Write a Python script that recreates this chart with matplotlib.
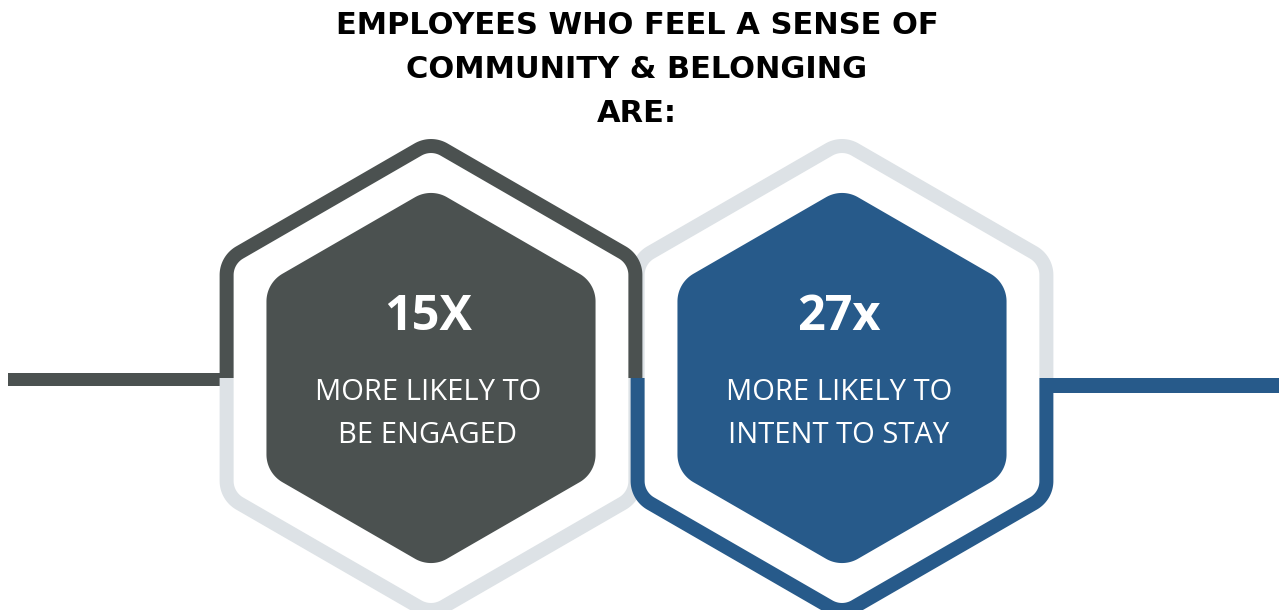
import matplotlib

matplotlib.use("Agg")
import matplotlib.pyplot as plt
import numpy as np
from matplotlib.patches import Polygon, Rectangle

W, H = 1279, 610

TITLE_LINES = ["EMPLOYEES WHO FEEL A SENSE OF", "COMMUNITY & BELONGING", "ARE:"]
MULTIPLIERS = ["15X", "27x"]
DESCRIPTIONS = [["MORE LIKELY TO", "BE ENGAGED"], ["MORE LIKELY TO", "INTENT TO STAY"]]

DARK = "#4b5150"
BLUE = "#275a8a"
LIGHT = "#dde2e6"
FILL_COLORS = [DARK, BLUE]

# hexagon layout (pixel units, y grows downward)
CENTERS = [(431, 378), (842, 378)]
RING_R, RING_CORNER, RING_LW = 236, 26, 14
FILL_R, FILL_CORNER = 190, 32


def hex_vertices(cx, cy, r):
    hw = r * np.sqrt(3) / 2
    return {
        "lmid": (cx - hw, cy), "ul": (cx - hw, cy - r / 2), "top": (cx, cy - r),
        "ur": (cx + hw, cy - r / 2), "rmid": (cx + hw, cy), "lr": (cx + hw, cy + r / 2),
        "bot": (cx, cy + r), "ll": (cx - hw, cy + r / 2),
    }


def round_chain(pts, rad, closed=False, n=24):
    """Polyline through pts with every corner replaced by a circular arc."""
    pts = [np.asarray(p, float) for p in pts]
    out = []
    idx = range(len(pts)) if closed else range(1, len(pts) - 1)
    if not closed:
        out.append(pts[0])
    for i in idx:
        p0, p1, p2 = pts[i - 1], pts[i], pts[(i + 1) % len(pts)]
        a = (p0 - p1) / np.linalg.norm(p0 - p1)
        b = (p2 - p1) / np.linalg.norm(p2 - p1)
        ang = np.arccos(np.clip(a @ b, -1, 1))
        d = rad / np.tan(ang / 2)
        t1, t2 = p1 + a * d, p1 + b * d
        bis = (a + b) / np.linalg.norm(a + b)
        c = p1 + bis * rad / np.sin(ang / 2)
        s1 = np.arctan2(*(t1 - c)[::-1])
        s2 = np.arctan2(*(t2 - c)[::-1])
        ds = (s2 - s1 + np.pi) % (2 * np.pi) - np.pi
        for s in np.linspace(s1, s1 + ds, n):
            out.append(c + rad * np.array([np.cos(s), np.sin(s)]))
    if not closed:
        out.append(pts[-1])
    return np.array(out)


def ring_half(ax, cx, cy, upper, color):
    v = hex_vertices(cx, cy, RING_R)
    keys = ["lmid", "ul", "top", "ur", "rmid"] if upper else ["rmid", "lr", "bot", "ll", "lmid"]
    p = round_chain([v[k] for k in keys], RING_CORNER)
    ax.plot(p[:, 0], p[:, 1], color=color, lw=RING_LW * 0.72,
            solid_capstyle="butt", solid_joinstyle="round")


fig = plt.figure(figsize=(W / 100, H / 100), dpi=100)
ax = fig.add_axes([0, 0, 1, 1])
ax.set_xlim(0, W)
ax.set_ylim(H, 0)
ax.axis("off")

# pale halves sit underneath the coloured halves
ring_half(ax, *CENTERS[0], upper=False, color=LIGHT)
ring_half(ax, *CENTERS[1], upper=True, color=LIGHT)
ring_half(ax, *CENTERS[0], upper=True, color=DARK)
ring_half(ax, *CENTERS[1], upper=False, color=BLUE)

# connector bars
ax.add_patch(Rectangle((8, 373), 225, 13, color=DARK, lw=0))
ax.add_patch(Rectangle((1040, 378), W - 1040, 15, color=BLUE, lw=0))

for (cx, cy), col, mult, desc in zip(CENTERS, FILL_COLORS, MULTIPLIERS, DESCRIPTIONS):
    v = hex_vertices(cx, cy, FILL_R)
    poly = round_chain([v[k] for k in ["top", "ur", "lr", "bot", "ll", "ul"]], FILL_CORNER, closed=True)
    ax.add_patch(Polygon(poly, closed=True, color=col, lw=0))
    tx = cx - 3
    ax.text(tx, 330, mult, color="white", fontsize=35, fontweight="bold",
            family="Open Sans", ha="center", va="baseline")
    for j, line in enumerate(desc):
        ax.text(tx, 400 + 43 * j, line, color="white", fontsize=21,
                family="Open Sans", ha="center", va="baseline")

for i, line in enumerate(TITLE_LINES):
    ax.text(637, 34 + 44 * i, line, color="black", fontsize=22, fontweight="bold",
            family="DejaVu Sans", ha="center", va="baseline")

fig.savefig("out.png", dpi=100)
